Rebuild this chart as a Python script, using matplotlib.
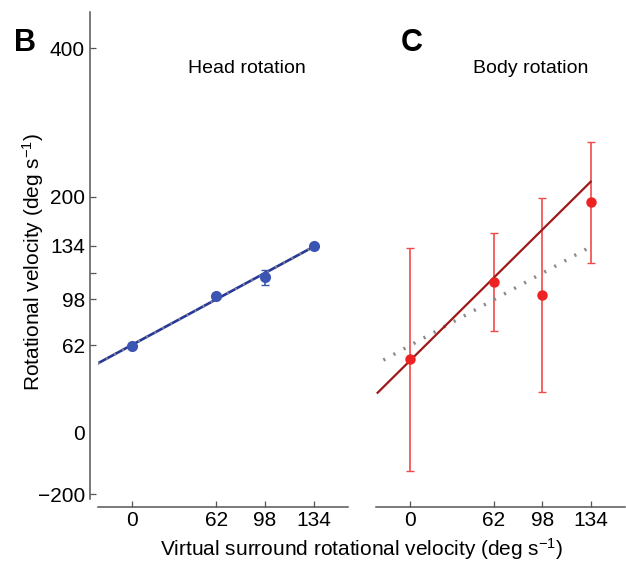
import numpy as np
import matplotlib
matplotlib.use("Agg")
import matplotlib.pyplot as plt

plt.rcParams.update({"font.family": ["Liberation Sans", "DejaVu Sans"],
                     "mathtext.fontset": "custom", "mathtext.rm": "Liberation Sans",
                     "mathtext.default": "regular"})

# ---- data ----
stim = [0, 62, 98, 134]

head_mean = [61, 100, 113, 133.5]
head_lo = [1, 1, 5, 1]
head_hi = [1, 1, 5, 1]
head_fit_x = [-25.5, 134]
head_fit_y = [49.0, 133.2]

body_mean = [51.8, 109.9, 100.9, 192.4]
body_top = [132.5, 151.3, 198.6, 273.3]
body_bottom = [-125, 73.3, 28.3, 122.6]
body_fit_x = [-24.3, 134]
body_fit_y = [28.0, 220.2]
ref_x = [-20, 134]          # head fit shown again in the body panel
ref_y = [51.3, 133.2]

# y axis is non-linear in the original figure: tick values and where they sit
scale_vals = [-300, -200, 0, 62, 98, 116, 134, 200, 400, 600]
scale_pos = [-525.5, -494.3, -432, -345, -299.3, -272.7, -245.5, -196.7, -48.3, 100.1]
yticks = [-200, 0, 62, 98, 116, 134, 200, 400]
yticklabels = ["\u2212200", "0", "62", "98", "", "134", "200", "400"]


def fwd(v):
    return np.interp(v, scale_vals, scale_pos)


def inv(p):
    return np.interp(p, scale_pos, scale_vals)


BLUE, BLUE_LINE = "#3c55b2", "#27389a"
RED, RED_ERR, RED_LINE = "#ee2222", "#f04a4a", "#9e1a1a"
GRAY = "#8a8a8a"
SPINE = "#555555"
DOTS = (0, (0.6, 2.7))

fig = plt.figure(figsize=(6.26, 5.64), dpi=100)
W, H = 626, 564
axB = fig.add_axes([98 / W, 1 - 499 / H, 250 / W, 487 / H])
axC = fig.add_axes([376 / W, 1 - 499 / H, 249 / W, 487 / H])

for ax in (axB, axC):
    ax.set_yscale("function", functions=(fwd, inv))
    ax.set_ylim(-215, 449)
    ax.set_xlim(-25.5, 159.5)
    ax.set_facecolor("none")
    for s in ("top", "right"):
        ax.spines[s].set_visible(False)
    ax.spines["bottom"].set_position(("outward", 6))
    ax.spines["bottom"].set_color(SPINE)
    ax.spines["bottom"].set_linewidth(1.1)
    ax.set_xticks(stim)
    ax.set_xticklabels([str(v) for v in stim])
    ax.tick_params(axis="x", direction="in", length=4, width=0.9, color=SPINE,
                   labelsize=15, pad=3)

# panel B
axB.spines["left"].set_position(("outward", 6))
axB.spines["left"].set_color(SPINE)
axB.spines["left"].set_linewidth(1.1)
axB.set_yticks(yticks)
axB.set_yticklabels(yticklabels)
axB.yaxis.set_minor_locator(matplotlib.ticker.NullLocator())
axB.tick_params(axis="y", direction="in", length=4, width=0.9, color=SPINE,
                labelsize=15, pad=3.5)
axB.yaxis.get_major_ticks()[1].tick1line.set_visible(False)

axB.plot(head_fit_x, head_fit_y, color=BLUE_LINE, lw=1.9, zorder=2)
axB.plot(head_fit_x, head_fit_y, color=GRAY, lw=2.0, ls=DOTS, zorder=3)
axB.errorbar(stim, head_mean, yerr=[head_lo, head_hi], fmt="o", color=BLUE, ms=7,
             ecolor=BLUE, elinewidth=1.2, capsize=3, zorder=4)

# panel C
axC.spines["left"].set_visible(False)
axC.set_yticks([])
axC.yaxis.set_minor_locator(matplotlib.ticker.NullLocator())

body_err = [np.array(body_mean) - np.array(body_bottom),
            np.array(body_top) - np.array(body_mean)]
axC.errorbar(stim, body_mean, yerr=body_err, fmt="none", ecolor=RED_ERR,
             elinewidth=1.2, capsize=3, zorder=2)
axC.plot(ref_x, ref_y, color=GRAY, lw=2.5, ls=DOTS, zorder=3)
axC.plot(body_fit_x, body_fit_y, color=RED_LINE, lw=1.6, zorder=3)
axC.plot(stim, body_mean, "o", color=RED, ms=6.5, zorder=4)

# labels
fig.text(24.5 / W, 1 - 43 / H, "B", fontsize=22, fontweight="bold", ha="center", va="center")
fig.text(412 / W, 1 - 43 / H, "C", fontsize=22, fontweight="bold", ha="center", va="center")
fig.text(247 / W, 1 - 68.5 / H, "Head rotation", fontsize=14, ha="center", va="center")
fig.text(531 / W, 1 - 68.5 / H, "Body rotation", fontsize=14, ha="center", va="center")
fig.text(33 / W, 1 - 262 / H, "Rotational velocity (deg s$^{\u22121}$)",
         fontsize=15, rotation=90, ha="center", va="center")
fig.text(362 / W, 1 - 549 / H, "Virtual surround rotational velocity (deg s$^{\u22121}$)",
         fontsize=15, ha="center", va="center")

fig.savefig("out.png", dpi=100)
